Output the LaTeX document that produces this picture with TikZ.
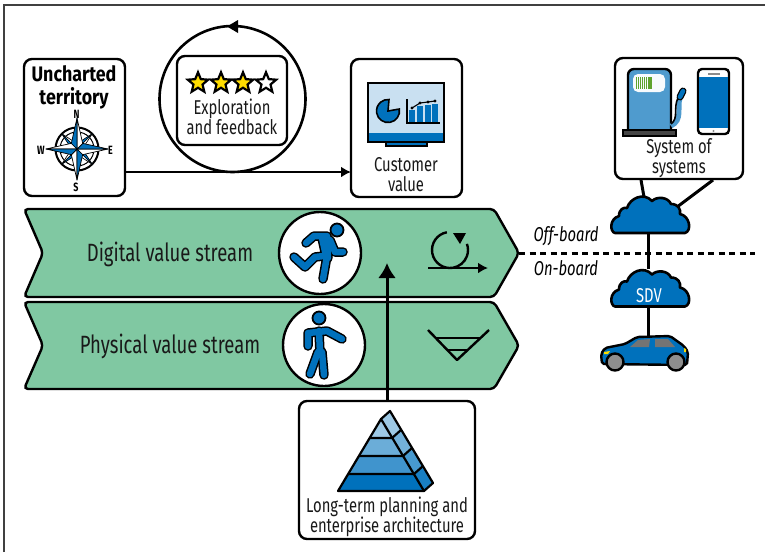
\documentclass[tikz,border=0pt]{standalone}
\usepackage{fontspec}
\setmainfont{Fira Sans}[FakeStretch=0.74]
\newfontfamily\headf{Fira Sans}[FakeStretch=0.85]
\usetikzlibrary{arrows.meta,shapes.geometric}
\definecolor{vgreen}{HTML}{80C8A2}
\definecolor{oblue}{HTML}{0071BC}
\definecolor{mblue}{HTML}{4F9BCE}
\definecolor{lblue}{HTML}{C9E0F1}
\definecolor{ystar}{HTML}{FFDD00}
\definecolor{cgrey}{HTML}{8E8E8E}
\definecolor{dgrey}{HTML}{454545}
\definecolor{bgreen}{HTML}{5FA32E}
\tikzset{
  box/.style={draw,line width=2.4pt,rounded corners=8pt,fill=white,inner sep=0pt,outer sep=0pt},
  lab/.style={inner sep=0pt,align=center,text=black!90,font=\fontsize{20}{20}\selectfont},
  streamlab/.style={inner sep=0pt,text=black!90,font=\fontsize{25}{26}\selectfont},
  stream/.style={draw,line width=2.4pt,fill=vgreen,rounded corners=4pt},
  badge/.style={circle,draw,line width=2.4pt,fill=white,minimum size=82pt,inner sep=0pt},
  conn/.style={line width=3pt},
  lim/.style={line width=9.5pt,line cap=round,line join=round},
  limb/.style={line width=6.5pt,line cap=round,line join=round,oblue},
  ptr/.style={-{Latex[length=15pt,width=18pt]},line width=3pt},
  ptrs/.style={-{Latex[length=10pt,width=11pt]},line width=2.6pt},
  compassl/.style={inner sep=0pt,font=\bfseries\fontsize{12}{12}\selectfont},
  sideL/.style={inner sep=0pt,font=\itshape\fontsize{20}{20}\selectfont},
  starn/.style={star,star points=5,star point ratio=2.25,draw,line width=2.2pt,minimum size=21.5pt,inner sep=0pt},
  cloudn/.style={minimum width=79pt,minimum height=38pt,inner sep=0pt,outer sep=0pt}
}
\newcommand{\cloudat}[2]{%
  \begin{scope}[shift={(#1,#2)}]
  \draw[line width=2.6pt,fill=oblue,line join=round]
   (5,38) .. controls (0,37) and (-1,24) .. (9,21)
   .. controls (9,14) and (14,12) .. (17,13)
   .. controls (20,3) and (34,-3) .. (42,6)
   .. controls (47,1) and (58,2) .. (61,9)
   .. controls (68,9) and (71,14) .. (70,19)
   .. controls (80,21) and (82,36) .. (75,38) -- cycle;
  \end{scope}}
\begin{document}
\begin{tikzpicture}[x=1pt,y=-1pt]
\useasboundingbox (0,0) rectangle (765,552);
\fill[white] (0,0) rectangle (765,552);
\draw[line width=1.1pt,black!75] (4,552) -- (4,5) -- (765,5);

% streams
\path[stream] (24,209) -- (494,209) -- (519,253) -- (494,297) -- (24,297) -- (43,253) -- cycle;
\path[stream] (24,302) -- (494,302) -- (519,345.5) -- (494,389) -- (24,389) -- (43,345.5) -- cycle;
\node[streamlab] (digital) at (170,254) {Digital value stream};
\node[streamlab] (physical) at (170,346) {Physical value stream};
\node[badge] (runb) at (320,253) {};
\node[badge] (walkb) at (324,345) {};

% runner
\foreach \s in {lim,limb}{
  \draw[\s] (306,243) -- (314,236) -- (327,236) -- (328,258);
  \draw[\s] (330,240) -- (335,252) -- (343,252);
  \draw[\s] (327,256) -- (323,279);
  \draw[\s] (324,256) -- (315,257) -- (305,267) -- (294,257);
  \draw[\s] (322,238) -- (326,256);
}
\draw[line width=1.8pt,fill=oblue] (337,230) circle[radius=6.5];
% walker
\foreach \s in {lim,limb}{
  \draw[\s] (308,346) -- (308,333) -- (327,331) -- (342,339);
  \draw[\s] (319,331) -- (320,353);
  \draw[\s] (318,352) -- (310,374);
  \draw[\s] (322,352) -- (324,375);
}
\draw[line width=1.8pt,fill=oblue] (319,318) circle[radius=6.5];

% cycle icon
\draw[line width=2.4pt] (450,250) ++(-100:18) arc[start angle=-100,end angle=-380,radius=18];
\fill (453,233) -- (466,233) -- (460,244) -- cycle;
\coordinate (cycS) at (428,268);
\coordinate (cycE) at (488,268);
\draw[ptrs] (cycS) -- (cycE);
% funnel
\draw[line width=2.4pt,line join=round] (428,330) -- (457,360) -- (489,330);
\draw[line width=2.4pt] (436,338) -- (481,338);
\draw[line width=2.4pt] (447,350) -- (467,350);

% off/on-board line
\coordinate (dashA) at (519,253);
\coordinate (dashB) at (755,253);
\draw[line width=3pt,dash pattern=on 6pt off 4.5pt] (dashA) -- (dashB);
\node[sideL] (off) at (566,236) {Off-board};
\node[sideL] (on) at (566,268) {On-board};

% boxes top row
\node[circle,draw,line width=2.6pt,minimum size=146pt,inner sep=0pt] (loop) at (232.5,99) {};
\fill (227,26.5) -- (238,20) -- (238,33) -- cycle;
\node[box,minimum width=110pt,minimum height=89pt] (explore) at (232,100.5) {};
\foreach \i/\cx/\c in {a/198/ystar,b/221/ystar,c/243/ystar,d/266/white}
  \node[starn,fill=\c] (star\i) at (\cx,83) {};
\node[lab] (exploret) at (232,117) {Exploration\\and feedback};

\node[box,minimum width=101pt,minimum height=137pt] (unch) at (74.5,127.5) {};
\node[box,minimum width=111pt,minimum height=138pt] (cust) at (406.5,128) {};
\draw[ptrs,line width=2.8pt] (unch.east |- 0,172) -- (cust.west |- 0,172);
\node[inner sep=0pt,align=center,font=\headf\bfseries\fontsize{21}{23}\selectfont] (uncht) at (74,87.5) {Uncharted\\territory};

% compass
\begin{scope}[shift={(77,149)}]
  \draw[line width=2pt,fill=white] (0,0) circle[radius=21.5];
  \draw[line width=1pt] (0,0) circle[radius=17];
  \foreach \a in {45,135,225,315}{
    \fill[white,draw=black,line width=.6pt,line join=round] (0,0) -- (\a+22:8) -- (\a:22) -- cycle;
    \fill[oblue,draw=black,line width=.6pt,line join=round] (0,0) -- (\a-22:8) -- (\a:22) -- cycle;
  }
  \foreach \a in {0,90,180,270}{
    \fill[white,draw=black,line width=.7pt,line join=round] (0,0) -- (\a+45:8) -- (\a:31) -- cycle;
    \fill[oblue,draw=black,line width=.7pt,line join=round] (0,0) -- (\a-45:8) -- (\a:31) -- cycle;
  }
\end{scope}
\node[compassl] (cn) at (76.5,114) {N};
\node[compassl] (cs) at (76,187) {S};
\node[compassl] (cw) at (41,150) {W};
\node[compassl] (ce) at (110.5,150) {E};

% monitor
\draw[line width=2.2pt,fill=lblue] (368,83) rectangle (444,142);
\fill[oblue] (369,133) rectangle (443,141);
\draw[line width=1.8pt,fill=oblue] (386,142) rectangle (427,146);
\fill[oblue,draw=black,line width=1.6pt] (388,111) -- +(-10:11.5) arc[start angle=-10,end angle=275,radius=11.5] -- cycle;
\foreach \xx/\yy in {412/110,420/106,428/105,435/104}
  \fill[oblue] (\xx-3,\yy) rectangle (\xx+3,122);
\draw[line width=1.5pt] (407,99) -- (407,123) -- (440,123);
\draw[line width=1.1pt] (412,108) -- (420,103) -- (428,102) -- (435,101);
\foreach \xx/\yy in {412/108,420/103,428/102,435/101} \fill (\xx,\yy) circle[radius=1.6];
\node[lab] (custt) at (406,175) {Customer\\value};

% long-term box and arrow
\node[box,minimum width=176pt,minimum height=138pt] (ltbox) at (387,470) {};
\coordinate (arrowtip) at (387,263);
\draw[ptr] (ltbox.north) -- (arrowtip);
\begin{scope}[line width=2.2pt,line join=round]
  \fill[oblue] (338,491) -- (348,474) -- (414,474) -- (424,491) -- cycle;
  \fill[oblue!75!white] (348,474) -- (359,456) -- (403,456) -- (414,474) -- cycle;
  \fill[oblue!58!white] (359,456) -- (370,438) -- (392,438) -- (403,456) -- cycle;
  \fill[oblue!38!white] (370,438) -- (381,419) -- (392,438) -- cycle;
  \fill[oblue!90!white] (424,491) -- (433,483) -- (423,466) -- (414,474) -- cycle;
  \fill[oblue!72!white] (414,474) -- (423,466) -- (412,448) -- (403,456) -- cycle;
  \fill[oblue!55!white] (403,456) -- (412,448) -- (401,430) -- (392,438) -- cycle;
  \fill[oblue!38!white] (392,438) -- (401,430) -- (390,411) -- (381,419) -- cycle;
  \draw (338,491) -- (381,419) -- (390,411) -- (433,483) -- (424,491) -- cycle;
  \draw (381,419) -- (424,491);
  \draw (348,474) -- (414,474) -- (423,466);
  \draw (359,456) -- (403,456) -- (412,448);
  \draw (370,438) -- (392,438) -- (401,430);
\end{scope}
\node[lab] (ltt) at (387,517) {Long-term planning and\\enterprise architecture};

% clouds, links
\node[box,minimum width=128pt,minimum height=121pt] (sos) at (679,118.5) {};
\node[cloudn] (cloudT) at (649.5,214) {};
\node[cloudn] (cloudB) at (649.5,287.5) {};
\node[minimum width=90pt,minimum height=36pt,inner sep=0pt,outer sep=0pt] (car) at (645,354) {};
\coordinate (sosA) at (641,180);
\coordinate (sosB) at (713,180);
\coordinate (cloudA1) at (644,197);
\coordinate (cloudA2) at (677,207);
\draw[conn] (sosA) -- (cloudA1);
\draw[conn] (sosB) -- (cloudA2);
\draw[conn] (cloudT.south -| 648,0) -- (cloudB.north -| 648,0);
\draw[conn] (cloudB.south -| 648,0) -- (car.north -| 648,0);
\cloudat{610}{195}
\cloudat{610}{268.5}
\node[inner sep=0pt,text=white,font=\fontsize{20}{20}\selectfont] (sdv) at (649,295.5) {SDV};

% car
\draw[line width=2.4pt,fill=oblue,line join=round,rounded corners=2pt]
  (602,364) -- (601,354) -- (605,348) -- (625,344) -- (637,337) -- (670,336) -- (684,346) -- (688,352) -- (687,365) -- cycle;
\fill[dgrey!75!white] (630,347) -- (638,340) -- (650,339) -- (649,347) -- cycle;
\fill[dgrey!75!white] (655,339) -- (668,339) -- (675,347) -- (655,347) -- cycle;
\fill[ystar] (604,352) -- (610,351) -- (608,354) -- (604,354) -- cycle;
\fill[ystar] (684,348) -- (686,349) -- (686,352) -- (684,352) -- cycle;
\draw[line width=2.4pt,fill=cgrey] (615,362) circle[radius=8.5];
\draw[line width=2.4pt,fill=cgrey] (676,362) circle[radius=8.5];

% charger
\draw[line width=2.4pt,fill=mblue,rounded corners=6pt] (628,130) -- (628,69) -- (671,69) -- (671,130);
\fill[white!85!lblue,rounded corners=5pt] (633,74) rectangle (665,92);
\foreach \i in {0,...,7} \fill[bgreen] (635.5+\i*2.1,77) rectangle (636.9+\i*2.1,89);
\draw[line width=2.4pt,fill=dgrey] (623,130) rectangle (676,136);
\draw[line width=5pt,mblue] (671,126) .. controls (683,120) and (677,108) .. (680,98);
\draw[line width=1.6pt] (671,124) .. controls (679,118) and (673,108) .. (678,98);
\draw[line width=7pt,black,line cap=round] (680,97) -- (683,91);
\draw[line width=4.5pt,oblue,line cap=round] (680,97) -- (683,91);
% phone
\draw[line width=2.4pt,fill=white,rounded corners=4pt] (698,69) rectangle (729,134);
\fill[oblue] (699,77) rectangle (728,128);
\fill[black!45] (708,73) rectangle (720,75);
\fill[black!45] (713.5,131) circle[radius=1.2];
\node[lab] (sost) at (679,158) {System of\\systems};
\end{tikzpicture}
\end{document}
